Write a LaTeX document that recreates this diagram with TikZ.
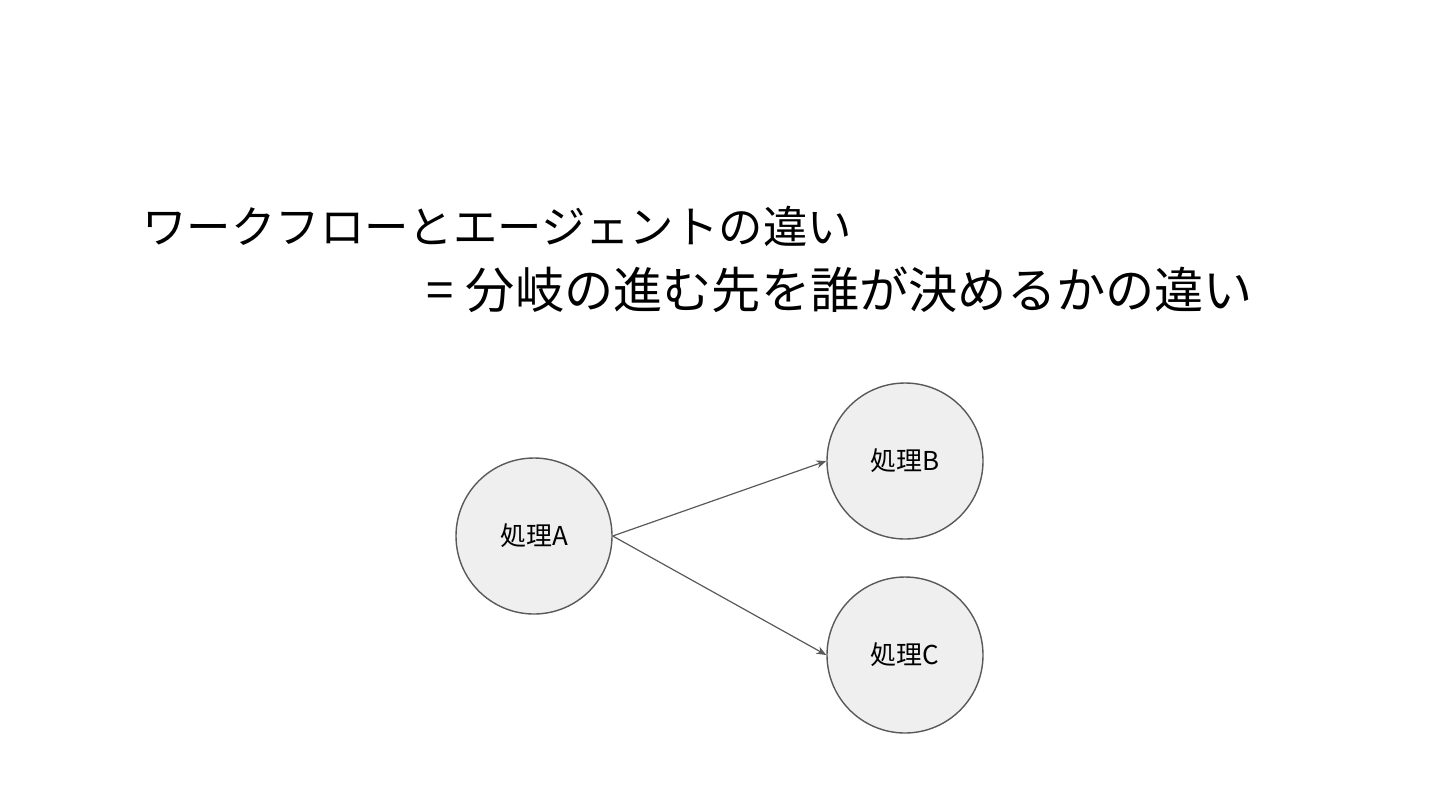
\documentclass[tikz,border=0pt]{standalone}
\usepackage{fontspec}
\setmainfont{Noto Sans CJK JP}
\usetikzlibrary{arrows.meta,positioning}

\definecolor{procfill}{HTML}{EFEFEF}
\definecolor{procline}{HTML}{595959}

\tikzset{
    proc/.style={circle, draw=procline, fill=procfill, line width=0.7pt,
        minimum size=78pt, inner sep=0pt, font=\fontsize{13}{15}\selectfont},
    flow/.style={draw=procline, line width=0.6pt, -{Stealth[length=5pt,width=4pt]}},
    headline/.style={anchor=west, inner sep=0pt}
}

\begin{document}
\begin{tikzpicture}[x=0.5pt,y=-0.5pt]
    \useasboundingbox (0,0) rectangle (1440,810);
    % title
    \node(title1)[headline, font=\fontsize{22.2}{27}\selectfont] at (142,226) {ワークフローとエージェントの違い};
    \node(title2)[headline, font=\fontsize{24.6}{29}\selectfont] at (426,290) {=\hspace{0.25em}分岐の進む先を誰が決めるかの違い};
    % processes
    \node(a)[proc] at (534,536) {処理A};
    \node(b)[proc, on grid, above right=37.5pt and 185.5pt of a] {処理B};
    \node(c)[proc, on grid, below=97pt of b] {処理C};
    \draw[flow](a.east) -- (b.west);
    \draw[flow](a.east) -- (c.west);
\end{tikzpicture}
\end{document}
